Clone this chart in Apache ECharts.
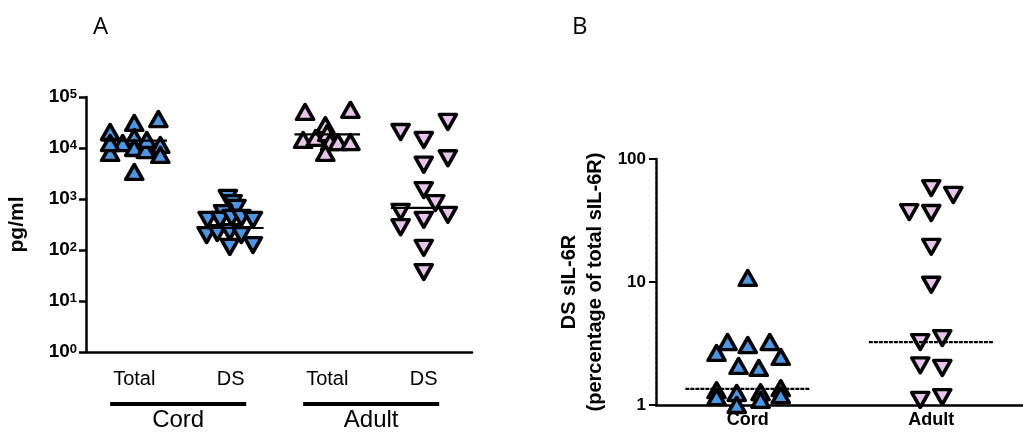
<!DOCTYPE html>
<html><head><meta charset="utf-8">
<script src="https://cdn.jsdelivr.net/npm/echarts@6/dist/echarts.min.js"></script>
<style>html,body{margin:0;padding:0;background:#fff}#c{width:1023px;height:433px}</style>
</head><body><div id="c"></div>
<script>
// ---------- Panel A data ----------
const catsA = ['Total', 'DS', 'Total', 'DS'];
const groupsA = ['Cord', 'Adult'];          // Cord = categories 0-1, Adult = 2-3
const cordTotal = [20600, 31000, 37000, 8000, 16500, 12500, 10000, 9100, 11500, 7300, 3400, 14400, 12500];
const cordTotalJit = [-0.25, 0, 0.25, -0.25, 0, -0.12, 0, 0.12, 0.27, 0.27, 0, 0.13, -0.25];
const cordDS = [1050, 830, 670, 530, 390, 390, 425, 425, 390, 196, 215, 225, 196, 115, 125];
const cordDSJit = [-0.03, 0.02, 0.06, -0.08, -0.24, -0.11, 0.01, 0.11, 0.23, -0.25, -0.14, -0.01, 0.11, -0.01, 0.23];
const adultTotal = [51000, 56000, 28000, 14400, 15800, 19600, 13100, 13100, 13100, 8000];
const adultTotalJit = [-0.23, 0.24, -0.02, -0.25, -0.12, 0, 0.03, 0.11, 0.24, -0.02];
const adultDS = [32400, 20600, 14400, 6300, 4700, 1500, 830, 560, 390, 490, 280, 110, 37];
const adultDSJit = [0.25, -0.24, 0, 0.25, 0, 0, 0.12, -0.24, 0, 0.25, -0.24, 0, 0];
const mediansA = [14000, 270, 18500, 670];

// ---------- Panel B data ----------
const catsB = ['Cord', 'Adult'];
const cordPct = [10.8, 3.25, 3.07, 3.25, 2.65, 2.46, 2.08, 2.0, 1.32, 1.16, 1.25, 1.27, 1.37, 1.2, 1.0, 1.1];
const cordPctJit = [0, -0.11, 0, 0.12, -0.17, 0.18, -0.05, 0.06, -0.17, -0.17, -0.06, 0.07, 0.18, 0.18, -0.06, 0.07];
const adultPct = [58, 51, 37, 36.4, 19.3, 9.5, 3.25, 3.5, 2.1, 2.0, 1.1, 1.16];
const adultPctJit = [0, 0.12, -0.12, 0, 0, 0, -0.06, 0.06, -0.06, 0.06, -0.06, 0.06];
const mediansB = [1.35, 3.25];

const BLUE = '#4A97E6', PINK = '#E8C4EC';
const FONT = '"Liberation Sans", Arial, sans-serif';

function pts(center, vals, jit) { return vals.map((v, i) => [center + jit[i], v]); }
function scatter(xi, yi, data, color, down) {
  return {
    type: 'scatter', xAxisIndex: xi, yAxisIndex: yi, data: data,
    symbol: 'triangle', symbolSize: [17, 15], symbolRotate: down ? 180 : 0,
    itemStyle: { color: color, borderColor: '#000', borderWidth: 3.5, borderJoin: 'round', opacity: 1 },
    z: 2, silent: true, animation: false
  };
}
function median(xi, yi, center, v, dashed) {
  return {
    type: 'line', xAxisIndex: xi, yAxisIndex: yi, data: [[center - 0.34, v], [center + 0.34, v]],
    symbol: 'none', lineStyle: { color: '#000', width: 2.2, type: dashed ? [4, 1] : 'solid' },
    z: 5, silent: true, animation: false
  };
}

const series = [
  scatter(1, 0, pts(0, cordTotal, cordTotalJit), BLUE, false),
  scatter(1, 0, pts(1, cordDS, cordDSJit), BLUE, true),
  scatter(1, 0, pts(2, adultTotal, adultTotalJit), PINK, false),
  scatter(1, 0, pts(3, adultDS, adultDSJit), PINK, true),
  scatter(3, 1, pts(0, cordPct, cordPctJit), BLUE, false),
  scatter(3, 1, pts(1, adultPct, adultPctJit), PINK, true)
];
mediansA.forEach((m, i) => series.push(median(1, 0, i, m, false)));
mediansB.forEach((m, i) => series.push(median(3, 1, i, m, true)));

const chart = echarts.init(document.getElementById('c'), null, { renderer: 'canvas' });
const option = {
  animation: false,
  backgroundColor: '#fff',
  textStyle: { fontFamily: FONT },
  title: [
    { text: 'A', left: 88, top: 10, textStyle: { fontFamily: '"Open Sans", sans-serif', fontWeight: 'normal', fontSize: 24, color: '#000' } },
    { text: 'B', left: 567, top: 10, textStyle: { fontFamily: '"Open Sans", sans-serif', fontWeight: 'normal', fontSize: 24, color: '#000' } }
  ],
  grid: [
    { left: 86, top: 97, width: 386, height: 255, containLabel: false },
    { left: 656, top: 159, width: 374, height: 246, containLabel: false }
  ],
  xAxis: [
    { type: 'category', gridIndex: 0, data: catsA, boundaryGap: true,
      axisLine: { lineStyle: { color: '#000', width: 2.5 } },
      axisTick: { alignWithLabel: true, length: 7, lineStyle: { color: '#000', width: 2.5 } },
      axisLabel: { color: '#000', fontSize: 20, margin: 17, fontFamily: FONT } },
    { type: 'value', gridIndex: 0, min: -0.5, max: 3.5, show: false },
    { type: 'category', gridIndex: 1, data: catsB, boundaryGap: true,
      axisLine: { lineStyle: { color: '#000', width: 2.5, type: [4, 1] } },
      axisTick: { alignWithLabel: true, length: 3, lineStyle: { color: '#000', width: 1 } },
      axisLabel: { color: '#000', fontSize: 18, fontWeight: 'bold', margin: 6, fontFamily: FONT } },
    { type: 'value', gridIndex: 1, min: -0.5, max: 1.5, show: false }
  ],
  yAxis: [
    { type: 'log', gridIndex: 0, min: 1, max: 100000, logBase: 10, interval: 1,
      name: 'pg/ml', nameLocation: 'middle', nameGap: 58,
      nameTextStyle: { color: '#000', fontSize: 21, fontWeight: 'bold', fontFamily: FONT },
      axisLine: { show: true, onZero: false, lineStyle: { color: '#000', width: 2.5 } },
      axisTick: { show: true, length: 7, lineStyle: { color: '#000', width: 2.5 } },
      splitLine: { show: false }, minorTick: { show: false },
      axisLabel: { margin: 9,
        formatter: v => '{b|10}{s|' + Math.round(Math.log10(v)) + '}',
        rich: { b: { fontSize: 19, fontWeight: 'bold', color: '#000', fontFamily: FONT },
                s: { fontSize: 13, fontWeight: 'bold', color: '#000', verticalAlign: 'top', fontFamily: FONT } } } },
    { type: 'log', gridIndex: 1, min: 1, max: 100, logBase: 10, interval: 1,
      name: 'DS sIL-6R\n(percentage of total sIL-6R)', nameLocation: 'middle', nameGap: 48,
      nameTextStyle: { color: '#000', fontSize: 20, fontWeight: 'bold', lineHeight: 26, fontFamily: FONT },
      axisLine: { show: true, onZero: false, lineStyle: { color: '#000', width: 2.5, type: [4, 1] } },
      axisTick: { show: true, length: 7, lineStyle: { color: '#000', width: 2 } },
      splitLine: { show: false }, minorTick: { show: false },
      axisLabel: { margin: 10, color: '#000', fontSize: 17, fontWeight: 'bold', fontFamily: FONT,
        formatter: v => String(Math.round(v)) } }
  ],
  series: series
};
chart.setOption(option);

// group brackets under panel A, positioned through the hidden value axis
const graphics = [];
groupsA.forEach((g, gi) => {
  const first = gi * 2, last = gi * 2 + 1;
  const x1 = chart.convertToPixel({ xAxisIndex: 1 }, first - 0.25);
  const x2 = chart.convertToPixel({ xAxisIndex: 1 }, last + 0.16);
  const baseY = chart.convertToPixel({ yAxisIndex: 0 }, 1);
  graphics.push({ type: 'line', shape: { x1: x1, y1: baseY + 52, x2: x2, y2: baseY + 52 },
    style: { stroke: '#000', lineWidth: 4 }, silent: true });
  graphics.push({ type: 'text', x: (x1 + x2) / 2, y: baseY + 56,
    style: { text: g, fill: '#000', font: 'normal 24px ' + FONT, textAlign: 'center', textVerticalAlign: 'top' }, silent: true });
});
chart.setOption({ graphic: graphics });
</script></body></html>
